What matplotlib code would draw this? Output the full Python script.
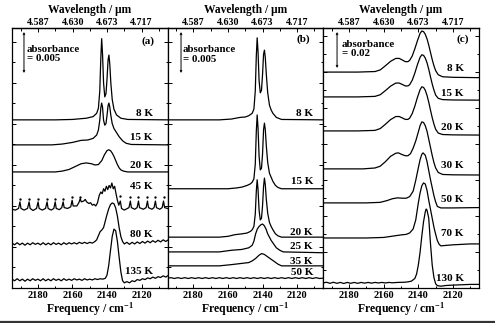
import numpy as np
import matplotlib
matplotlib.use('Agg')
import matplotlib.pyplot as plt
from matplotlib.ticker import MultipleLocator, FixedLocator
from matplotlib.lines import Line2D

plt.rcParams.update({
    'font.family': ['Liberation Serif', 'DejaVu Serif'],
    'font.weight': 'bold',
    'axes.labelweight': 'bold',
    'mathtext.fontset': 'custom',
    'mathtext.rm': 'Liberation Serif:bold',
    'mathtext.it': 'Liberation Serif:bold',
    'mathtext.bf': 'Liberation Serif:bold',
})

# ---------------- data (frequency cm-1, absorbance in 1e-3 units rel. to baseline) ----------
FREQ_TICKS = [2180, 2160, 2140, 2120]
WL_TICKS = [4.587, 4.630, 4.673, 4.717]
WL_LABELS = ['4.587', '4.630', '4.673', '4.717']

# panel (a)
a_8K = [(2195,0),(2170,0),(2160,0.05),(2152,0.2),(2148,0.4),(2146,0.8),(2145,1.4),(2144.2,3.5),
        (2143.6,7.5),(2143.1,9.9),(2142.6,8.0),(2142.0,4.5),(2141.3,2.8),(2140.6,3.2),(2140.0,5.0),
        (2139.4,7.3),(2138.9,7.9),(2138.4,6.8),(2137.8,4.5),(2137.0,2.5),(2136.0,1.3),(2134.5,0.6),
        (2132,0.2),(2128,0.05),(2105,0)]
a_15K = [(2195,0),(2172,0),(2166,0.1),(2160,0.3),(2155,0.55),(2151,0.6),(2148,0.8),(2146,1.2),
         (2145,1.8),(2144.2,3.0),(2143.6,4.5),(2143.1,5.1),(2142.6,4.6),(2142.0,3.0),(2141.3,2.4),
         (2140.6,2.6),(2140.0,3.6),(2139.4,4.8),(2138.9,5.1),(2138.4,4.6),(2137.8,3.6),(2137.0,2.6),
         (2136.0,2.0),(2134.5,1.5),(2133,1.0),(2131,0.5),(2129,0.2),(2126,0.05),(2105,0)]
a_20K = [(2195,0),(2170,0),(2166,0.1),(2162,0.3),(2158,0.7),(2155,1.0),(2152,1.1),(2149,1.0),
         (2147,0.85),(2145,0.9),(2143,1.4),(2141.5,2.1),(2140,2.6),(2139,2.7),(2138,2.6),(2137,2.3),
         (2136,1.9),(2135,1.4),(2134,0.9),(2133,0.5),(2132,0.25),(2130.5,0.1),(2128,0),(2105,0)]
a_45K = [(2195,0.1),(2193,0.0),(2191.2,0.2),(2190.4,1.0),(2189.8,0.2),(2188,0.0),(2186.0,0.2),
         (2185.1,1.0),(2184.5,0.2),(2182.8,-0.05),(2180.8,0.2),(2179.9,1.0),(2179.3,0.2),(2177.5,0.0),
         (2175.6,0.2),(2174.7,1.0),(2174.1,0.2),(2172.3,0.0),(2170.8,0.2),(2170.0,1.0),(2169.4,0.2),
         (2167.6,0.05),(2166.2,0.3),(2165.4,1.0),(2164.8,0.3),(2162.8,0.2),(2161.0,0.4),(2160.2,1.2),
         (2159.6,0.5),(2157.5,0.5),(2156.3,0.9),(2155.5,1.4),(2154.9,1.0),(2153.5,1.1),(2152.6,1.3),
         (2151.8,1.0),(2150.5,0.8),(2149.5,0.9),(2148.5,0.6),(2147.5,0.7),(2146.5,0.5),(2145.5,0.9),
         (2144.5,1.8),(2143.6,2.2),(2142.8,2.0),(2142.0,2.6),(2141.2,2.3),(2140.4,2.9),(2139.6,2.5),
         (2138.8,3.0),(2138.0,2.7),(2137.2,3.3),(2136.4,2.6),(2135.6,2.9),(2134.8,2.0),(2134.0,1.2),
         (2133.2,0.6),(2132.3,1.1),(2131.6,0.2),(2130,0.0),(2127.3,0.3),(2126.5,1.1),(2125.9,0.3),
         (2124,0.1),(2122.6,0.3),(2121.8,1.1),(2121.2,0.3),(2119,0.1),(2117.4,0.3),(2116.6,1.1),
         (2116.0,0.3),(2114,0.1),(2112.8,0.3),(2112.0,1.1),(2111.4,0.3),(2109.5,0.1),(2108.1,0.3),
         (2107.3,1.1),(2106.7,0.3),(2105,0.2)]
a_45K_dots = [(2190.4,1.35),(2185.1,1.35),(2179.9,1.35),(2174.7,1.35),(2170.0,1.35),(2165.4,1.4),
              (2160.2,1.6),(2155.5,1.65),(2132.3,1.7),(2126.5,1.6),(2121.8,1.6),(2116.6,1.6),
              (2112.0,1.6),(2107.3,1.6)]
a_80K = [(2195,0.1),(2193.5,-0.1),(2192,0.15),(2190.5,-0.1),(2189,0.1),(2187.5,-0.15),(2186,0.1),
         (2184.5,-0.1),(2183,0.15),(2181.5,-0.05),(2180,0.1),(2178.5,-0.1),(2177,0.15),(2175.5,-0.1),
         (2174,0.1),(2172.5,-0.1),(2171,0.15),(2169.5,-0.05),(2168,0.1),(2166.5,-0.1),(2165,0.15),
         (2163.5,-0.05),(2162,0.15),(2160.5,0.0),(2159,0.15),(2157.5,0.0),(2156,0.2),(2154.5,0.05),
         (2153,0.2),(2151.5,0.05),(2150,0.2),(2148.5,0.1),(2147,0.3),(2146,0.5),(2145,1.0),(2144,1.5),
         (2143,1.7),(2142,2.0),(2141,2.8),(2140,3.6),(2139,4.3),(2138,4.8),(2137,5.0),(2136,4.9),
         (2135,4.4),(2134,3.4),(2133,2.0),(2132,0.9),(2131,0.3),(2130,0.0),(2128.5,0.2),(2127,-0.05),
         (2125.5,0.2),(2124,0.0),(2122.5,0.25),(2121,0.05),(2119.5,0.3),(2118,0.1),(2116.5,0.35),
         (2115,0.15),(2113.5,0.4),(2112,0.2),(2110.5,0.45),(2109,0.25),(2107.5,0.5),(2106,0.3),(2105,0.45)]
a_135K = [(2195,0.1),(2193.5,-0.1),(2192,0.15),(2190.5,-0.1),(2189,0.1),(2187.5,-0.15),(2186,0.1),
          (2184.5,-0.1),(2183,0.15),(2181.5,-0.05),(2180,0.1),(2178.5,-0.1),(2177,0.15),(2175.5,-0.1),
          (2174,0.1),(2172.5,-0.1),(2171,0.15),(2169.5,-0.05),(2168,0.1),(2166.5,-0.1),(2165,0.15),
          (2163.5,-0.05),(2162,0.1),(2160.5,-0.05),(2159,0.15),(2157.5,0.0),(2156,0.1),(2154.5,-0.05),
          (2153,0.15),(2151.5,0.0),(2150,0.1),(2148.5,0.0),(2147,0.15),(2145.5,0.05),(2144,0.15),
          (2142.5,0.1),(2141,0.2),(2140,0.6),(2139,1.8),(2138,3.6),(2137,5.3),(2136,6.2),(2135,6.0),
          (2134,4.7),(2133,2.8),(2132,1.0),(2131,-0.1),(2130,-0.35),(2128.5,-0.2),(2127,-0.35),
          (2125.5,-0.1),(2124,-0.2),(2122.5,0.05),(2121,-0.05),(2119.5,0.15),(2118,0.05),(2116.5,0.25),
          (2115,0.15),(2113.5,0.35),(2112,0.2),(2110.5,0.4),(2109,0.3),(2107.5,0.5),(2106,0.35),(2105,0.5)]

# panel (b)
b_8K = [(2195,0),(2165,0),(2158,0.1),(2153,0.3),(2150,0.35),(2148,0.5),(2146,0.8),(2145,1.3),
        (2144.2,3.5),(2143.6,7.8),(2143.1,10.0),(2142.6,8.3),(2142.0,4.8),(2141.3,3.3),(2140.6,3.6),
        (2140.0,5.5),(2139.4,8.0),(2138.9,8.5),(2138.4,7.6),(2137.8,5.5),(2137.0,3.3),(2136.0,1.8),
        (2135,1.2),(2134,0.8),(2132,0.3),(2129,0.05),(2105,0)]
b_15K = [(2195,0),(2160,0),(2155,0.1),(2152,0.2),(2149,0.4),(2147,0.6),(2146,0.8),(2145,1.2),
         (2144.2,3.0),(2143.6,7.0),(2143.1,9.0),(2142.6,7.4),(2142.0,4.0),(2141.3,2.3),(2140.6,2.5),
         (2140.0,4.2),(2139.4,7.2),(2138.9,8.0),(2138.4,7.2),(2137.8,5.2),(2137.0,3.2),(2136.0,1.9),
         (2135,1.4),(2134,0.9),(2132.5,0.4),(2131,0.15),(2129,0.0),(2105,0)]
b_20K = [(2195,0),(2165,0),(2160,0.1),(2156,0.3),(2152,0.4),(2149,0.5),(2147,0.7),(2146,0.9),
         (2145,1.3),(2144.2,2.8),(2143.6,5.6),(2143.1,7.0),(2142.6,5.8),(2142.0,3.3),(2141.3,2.1),
         (2140.6,2.3),(2140.0,3.8),(2139.4,6.2),(2138.9,7.2),(2138.4,6.4),(2137.8,4.6),(2137.0,2.9),
         (2136.0,1.8),(2135,1.3),(2134,0.9),(2132.5,0.4),(2131,0.15),(2129,0.0),(2105,0)]
b_25K = [(2195,0),(2165,0),(2158,0.2),(2152,0.3),(2148,0.5),(2146,0.8),(2145,1.3),(2144,2.2),
         (2143,2.8),(2142,3.1),(2141,3.3),(2140,3.4),(2139,3.2),(2138,2.8),(2137,2.2),(2136,1.8),
         (2135,1.4),(2134,1.1),(2133,0.8),(2132,0.5),(2130,0.2),(2128,0.0),(2105,-0.1)]
b_35K = [(2195,0),(2165,0),(2158,0.15),(2152,0.3),(2148,0.4),(2146,0.6),(2144,0.9),(2142,1.3),
         (2140.5,1.5),(2139,1.4),(2137,1.1),(2135,0.8),(2133,0.5),(2131,0.2),(2129,0.0),(2105,0)]
b_50K = [(2195,0),(2193,0.06),(2191,-0.04),(2189,0.06),(2187,-0.04),(2185,0.06),(2183,-0.04),
         (2181,0.06),(2179,-0.04),(2177,0.06),(2175,-0.04),(2173,0.06),(2171,-0.04),(2169,0.06),
         (2167,-0.04),(2165,0.06),(2163,-0.04),(2161,0.06),(2159,-0.04),(2157,0.06),(2155,-0.04),
         (2153,0.06),(2151,-0.04),(2149,0.06),(2147,-0.04),(2145,0.06),(2143,-0.04),(2141,0.06),
         (2139,-0.04),(2137,0.06),(2135,-0.04),(2133,0.06),(2131,-0.04),(2129,0.06),(2127,-0.04),
         (2125,0.06),(2123,-0.04),(2121,0.06),(2119,-0.04),(2117,0.06),(2115,-0.04),(2113,0.06),
         (2111,-0.04),(2109,0.06),(2107,-0.04),(2105,0.0)]

# panel (c)
c_8K = [(2195,0),(2175,0),(2165,0.3),(2162,1.2),(2159,3.5),(2156,6.0),(2153,7.6),(2151,7.6),
        (2149,6.6),(2147.5,5.8),(2146,5.8),(2145,6.5),(2143.5,9.0),(2142,13.0),(2140.5,17.5),
        (2139,21.5),(2138,22.8),(2137,22.5),(2136,21.0),(2135,18.5),(2134,15.0),(2133,11.0),
        (2132,7.0),(2131,3.5),(2130,0.8),(2128.5,-1.5),(2126,-2.6),(2120,-2.9),(2105,-3.1)]
c_15K = [(2195,0),(2175,0),(2165,0.3),(2162,1.2),(2159,3.5),(2156,6.0),(2153,7.7),(2151,7.7),
         (2149,6.8),(2147.5,6.1),(2146,6.1),(2145,6.8),(2143.5,9.3),(2142,13.3),(2140.5,18.0),
         (2139,22.0),(2138,23.4),(2137,23.1),(2136,21.6),(2135,19.0),(2134,15.4),(2133,11.2),
         (2132,7.2),(2131,3.8),(2130,1.0),(2128.5,-0.8),(2126,-1.5),(2120,-1.7),(2105,-1.8)]
c_20K = [(2195,0),(2175,0),(2165,0.3),(2162,1.3),(2159,3.7),(2156,6.3),(2153,8.0),(2151,8.0),
         (2149,7.1),(2147.5,6.4),(2146,6.4),(2145,7.1),(2143.5,9.7),(2142,13.8),(2140.5,18.7),
         (2139,22.9),(2138,24.5),(2137,24.2),(2136,22.6),(2135,19.8),(2134,16.0),(2133,11.6),
         (2132,7.4),(2131,3.8),(2130,0.9),(2128.5,-1.2),(2126,-2.0),(2120,-2.2),(2105,-2.3)]
c_30K = [(2195,0),(2172,0),(2165,0.5),(2162,1.5),(2159,4.0),(2156,7.0),(2153,8.7),(2151.5,8.9),
         (2149.5,8.0),(2147.5,7.3),(2146,7.3),(2144.5,8.5),(2143,11.5),(2141.5,15.5),(2140,20.5),
         (2139,24.0),(2138,26.1),(2137,25.8),(2136,24.0),(2135,21.0),(2134,16.5),(2133,12.0),
         (2132,7.5),(2131,3.5),(2130,0.5),(2128.5,-2.0),(2126,-3.1),(2120,-3.3),(2105,-3.4)]
c_50K = [(2195,0),(2170,0),(2162,0.3),(2158,1.3),(2155,2.3),(2152,2.8),(2149,2.6),(2147,2.6),
         (2145,3.5),(2143,6.5),(2141.5,12.5),(2140,19.5),(2139,24.0),(2138,27.0),(2137.3,27.8),
         (2136,26.5),(2135,23.0),(2134,18.0),(2133,13.0),(2132,8.5),(2131,4.0),(2130,0.5),
         (2129,-2.0),(2127,-2.8),(2120,-2.8),(2105,-2.6)]
c_70K = [(2195,0),(2170,0),(2160,0.3),(2155,1.0),(2150,1.7),(2147,2.0),(2145,2.8),(2143,5.0),
         (2141.5,10.0),(2140,19.5),(2139,25.0),(2138,29.0),(2137,30.6),(2136,30.0),(2135,26.5),
         (2134,21.0),(2133,16.0),(2132,11.0),(2131,6.0),(2130,2.0),(2129,-1.5),(2128,-3.5),
         (2127,-4.4),(2125,-4.2),(2120,-3.8),(2110,-3.3),(2105,-3.3)]
c_130K = [(2195,0),(2193,0.4),(2191,-0.2),(2189,0.4),(2187,-0.2),(2185,0.3),(2183,-0.3),(2181,0.3),
          (2179,-0.2),(2177,0.3),(2175,-0.2),(2173,0.3),(2171,-0.1),(2169,0.3),(2167,-0.1),
          (2165,0.3),(2163,0.0),(2161,0.3),(2159,0.0),(2157,0.3),(2155,0.1),(2152,0.3),(2148,0.4),
          (2146,0.6),(2144,1.0),(2142,2.5),(2141,5.0),(2140,10.0),(2139,17.0),(2138,26.0),
          (2137,34.0),(2136,39.5),(2135.5,41.1),(2135,40.5),(2134,36.0),(2133,22.0),(2132,10.0),
          (2131,3.0),(2130,-0.5),(2129,-1.5),(2127,-1.8),(2124,-1.4),(2120,-1.2),(2110,-0.8),(2105,-0.8)]

# trace offsets (baselines) and label heights (axes fraction)
PANELS = [
    dict(tag='(a)', ytop=31.7, scale='absorbance\n= 0.005', bar=5.0, ymaj=5, ymin=2.5,
         traces=[(a_8K, 20.5, '8 K', 0.673), (a_15K, 17.45, '15 K', 0.577),
                 (a_20K, 14.15, '20 K', 0.473), (a_45K, 9.5, '45 K', 0.392),
                 (a_80K, 5.37, '80 K', 0.204), (a_135K, 0.98, '135 K', 0.065)],
         label_x=0.905, bar_x=0.077, text_x=0.096, text_y=0.90, tag_xy=(0.873, 0.95)),
    dict(tag='(b)', ytop=31.7, scale='absorbance\n= 0.005', bar=5.0, ymaj=5, ymin=2.5,
         traces=[(b_8K, 20.5, '8 K', 0.673), (b_15K, 12.1, '15 K', 0.408),
                 (b_20K, 6.2, '20 K', 0.215), (b_25K, 4.4, '25 K', 0.158),
                 (b_35K, 2.7, '35 K', 0.100), (b_50K, 1.2, '50 K', 0.058)],
         label_x=0.936, bar_x=0.087, text_x=0.100, text_y=0.898, tag_xy=(0.871, 0.958)),
    dict(tag='(c)', ytop=144.5, scale='absorbance\n= 0.02', bar=20.0, ymaj=20, ymin=10,
         traces=[(c_8K, 120.0, '8 K', 0.846), (c_15K, 106.2, '15 K', 0.750),
                 (c_20K, 87.3, '20 K', 0.619), (c_30K, 66.2, '30 K', 0.473),
                 (c_50K, 47.3, '50 K', 0.342), (c_70K, 27.8, '70 K', 0.208),
                 (c_130K, 2.8, '130 K', 0.035)],
         label_x=0.902, bar_x=0.090, text_x=0.122, text_y=0.919, tag_xy=(0.897, 0.958)),
]
PANEL_X = [(12, 167.5), (167.5, 323), (323, 479)]

# ---------------- figure ----------------
W, H = 495, 323
fig = plt.figure(figsize=(W / 100, H / 100), dpi=100)
Y0, Y1 = 28, 288


def f2w(f):
    f = np.asarray(f, dtype=float)
    return 1e4 / np.where(f == 0, 1e-9, f)


for (x0, x1), P in zip(PANEL_X, PANELS):
    ax = fig.add_axes([x0 / W, 1 - Y1 / H, (x1 - x0) / W, (Y1 - Y0) / H])
    for data, off, lab, ly in P['traces']:
        arr = np.array(data, dtype=float)
        ax.plot(arr[:, 0], arr[:, 1] + off, color='black', lw=0.9)
        ax.text(P['label_x'], ly, lab, transform=ax.transAxes, ha='right', va='center', fontsize=8)
    if P['tag'] == '(a)':
        d = np.array(a_45K_dots)
        ax.plot(d[:, 0], d[:, 1] + 9.5, ls='none', marker='o', ms=0.7, color='black')
    ax.set_xlim(2195, 2105)
    ax.set_ylim(0, P['ytop'])
    # scale bar
    ytop_bar = P['ytop'] * (1 - 4 / 260)
    ax.annotate('', xy=(P['bar_x'], ytop_bar), xycoords=('axes fraction', 'data'),
                xytext=(P['bar_x'], ytop_bar - P['bar']), textcoords=('axes fraction', 'data'),
                arrowprops=dict(arrowstyle='<->', lw=0.7, color='black', shrinkA=0, shrinkB=0,
                                mutation_scale=3))
    ax.text(P['text_x'], P['text_y'], P['scale'], transform=ax.transAxes, ha='left', va='center',
            fontsize=7.8, linespacing=1.1)
    ax.text(P['tag_xy'][0], P['tag_xy'][1], P['tag'], transform=ax.transAxes, ha='center',
            va='center', fontsize=8)

    ax.xaxis.set_major_locator(FixedLocator(FREQ_TICKS))
    ax.xaxis.set_minor_locator(MultipleLocator(10))
    ax.yaxis.set_major_locator(MultipleLocator(P['ymaj']))
    ax.yaxis.set_minor_locator(MultipleLocator(P['ymin']))
    ax.tick_params(which='both', direction='in', left=True, right=True, top=False,
                   labelleft=False, labelsize=7.5, pad=2.5, width=0.7)
    ax.tick_params(which='major', length=3)
    ax.tick_params(which='minor', length=1.8)
    for s in ax.spines.values():
        s.set_linewidth(0.9)
    ax.set_xlabel(r'Frequency / cm$^{-1}$', fontsize=8.5, labelpad=0.0)

    sec = ax.secondary_xaxis('top', functions=(f2w, f2w))
    sec.set_xticks(WL_TICKS)
    sec.set_xticklabels(WL_LABELS)
    sec.xaxis.set_minor_locator(FixedLocator(list(1e4 / np.array([2190, 2170, 2150, 2130, 2110]))))
    sec.tick_params(which='both', direction='in', labelsize=7.2, pad=1.0, width=0.7)
    sec.tick_params(which='major', length=3)
    sec.tick_params(which='minor', length=1.8)
    sec.spines['top'].set_linewidth(0.9)
    # wavelength title placed explicitly above the top tick labels
    fig.text((x0 + x1) / 2 / W, 1 - 10 / H, 'Wavelength / μm', ha='center', va='center',
             fontsize=8.3)

fig.add_artist(Line2D([0, 1], [1.5 / H, 1.5 / H], color='#333333', lw=1.6))
fig.savefig('out.png', dpi=100)
